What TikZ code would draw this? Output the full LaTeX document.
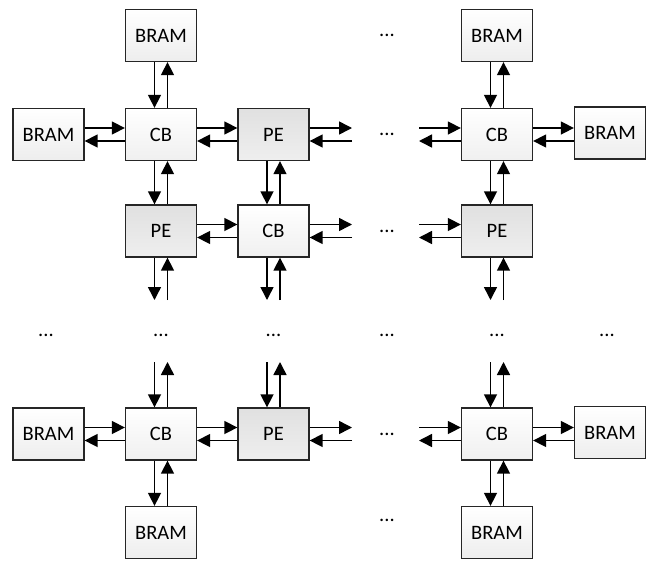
\documentclass[tikz,border=0pt]{standalone}
\usepackage{fontspec}
\setmainfont{Carlito}
\usetikzlibrary{shapes, backgrounds, arrows.meta, positioning}

\begin{document}
\begin{tikzpicture}[x=1pt, y=-1pt, >={Triangle[length=13pt,width=13pt]}]
        \tikzstyle{every node}=[align=center, font=\fontsize{20.5}{24}\selectfont]
        \tikzstyle{unit}=[draw=black!85, line width=1.3pt, minimum width=71pt, minimum height=52pt, inner sep=0pt]
        \tikzstyle{mem}=[unit, top color=white, bottom color=gray!14]
        \tikzstyle{cb}=[unit, top color=white, bottom color=gray!12]
        \tikzstyle{pe}=[unit, top color=gray!24, bottom color=gray!13]
        \tikzstyle{link}=[line width=1.5pt, ->]
        \useasboundingbox (0,0) rectangle (647,560);

        \node at (161, 35.5) [mem] (bramT1) {BRAM};
        \node at (387, 35) (dotsT) {...};
        \node at (497, 35.5) [mem] (bramT2) {BRAM};

        \node at (48.5, 134.5) [mem] (bramL1) {BRAM};
        \node at (161, 134.5) [cb] (cb11) {CB};
        \node at (273.5, 134.5) [pe] (pe12) {PE};
        \node at (387, 134.5) (dots1) {...};
        \node at (497, 134.5) [cb] (cb14) {CB};
        \node at (610, 133) [mem] (bramR1) {BRAM};

        \node at (161, 231) [pe] (pe21) {PE};
        \node at (273.5, 231) [cb] (cb22) {CB};
        \node at (387, 231) (dots2) {...};
        \node at (497, 231) [pe] (pe24) {PE};

        \node at (46, 335) (dotsA) {...};
        \node at (161, 335) (dotsB) {...};
        \node at (273.5, 335) (dotsC) {...};
        \node at (387, 335) (dotsD) {...};
        \node at (497, 335) (dotsE) {...};
        \node at (607, 335) (dotsF) {...};

        \node at (48.5, 434) [mem] (bramL3) {BRAM};
        \node at (161, 434) [cb] (cb31) {CB};
        \node at (273.5, 434) [pe] (pe32) {PE};
        \node at (387, 434) (dots3) {...};
        \node at (497, 434) [cb] (cb34) {CB};
        \node at (610, 432.5) [mem] (bramR3) {BRAM};

        \node at (161, 532.5) [mem] (bramB1) {BRAM};
        \node at (387, 520) (dotsBot) {...};
        \node at (497, 532.5) [mem] (bramB2) {BRAM};

        \coordinate (outE1) at (352, 134.5);
        \coordinate (inW1) at (419, 134.5);
        \coordinate (outE2) at (352, 231);
        \coordinate (inW2) at (419, 231);
        \coordinate (outE3) at (352, 434);
        \coordinate (inW3) at (419, 434);
        \coordinate (outS1) at (161, 300);
        \coordinate (outS2) at (273.5, 300);
        \coordinate (outS4) at (497, 300);
        \coordinate (inN1) at (161, 362);
        \coordinate (inN2) at (273.5, 362);
        \coordinate (inN4) at (497, 362);

        \foreach \a/\b in {bramL1/cb11, cb11/pe12, cb14/bramR1, pe21/cb22, bramL3/cb31, cb31/pe32, cb34/bramR3} {
            \draw[link] ([yshift=6.5pt]\a.east) -- ([yshift=6.5pt]\a.east -| \b.west);
            \draw[link] ([yshift=-6.5pt]\a.east -| \b.west) -- ([yshift=-6.5pt]\a.east);
        }
        \foreach \a/\b in {bramT1/cb11, cb11/pe21, pe12/cb22, bramT2/cb14, cb14/pe24, cb31/bramB1, cb34/bramB2} {
            \draw[link] ([xshift=-6.5pt]\a.south) -- ([xshift=-6.5pt]\b.north);
            \draw[link] ([xshift=6.5pt]\b.north) -- ([xshift=6.5pt]\a.south);
        }

        \foreach \a/\b in {pe12/outE1, cb22/outE2, pe32/outE3} {
            \draw[link] ([yshift=6.5pt]\a.east) -- ([yshift=6.5pt]\b);
            \draw[link] ([yshift=-6.5pt]\b) -- ([yshift=-6.5pt]\a.east);
        }
        \foreach \a/\b in {inW1/cb14, inW2/pe24, inW3/cb34} {
            \draw[link] ([yshift=6.5pt]\a) -- ([yshift=6.5pt]\b.west);
            \draw[link] ([yshift=-6.5pt]\b.west) -- ([yshift=-6.5pt]\a);
        }
        \foreach \a/\b in {pe21/outS1, cb22/outS2, pe24/outS4} {
            \draw[link] ([xshift=-6.5pt]\a.south) -- ([xshift=-6.5pt]\b);
            \draw[link] ([xshift=6.5pt]\b) -- ([xshift=6.5pt]\a.south);
        }
        \foreach \a/\b in {inN1/cb31, inN2/pe32, inN4/cb34} {
            \draw[link] ([xshift=-6.5pt]\a) -- ([xshift=-6.5pt]\b.north);
            \draw[link] ([xshift=6.5pt]\b.north) -- ([xshift=6.5pt]\a);
        }
\end{tikzpicture}
\end{document}
